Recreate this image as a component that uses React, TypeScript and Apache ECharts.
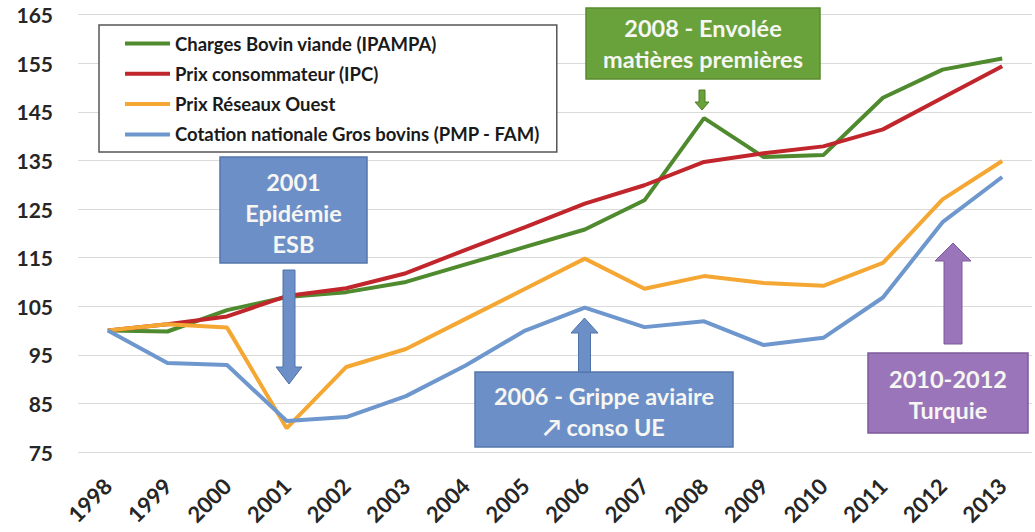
import React, { useEffect, useRef } from "react";
import * as echarts from "echarts";

const years = ["1998", "1999", "2000", "2001", "2002", "2003", "2004", "2005", "2006", "2007", "2008", "2009", "2010", "2011", "2012", "2013"];
const chargesBovin = [100, 99.8, 104.2, 106.9, 107.9, 110, 113.6, 117.2, 120.8, 126.8, 143.7, 135.7, 136.1, 147.9, 153.7, 156];
const prixConso = [100, 101.3, 102.9, 107.1, 108.7, 111.8, 116.6, 121.3, 126.1, 129.9, 134.7, 136.5, 137.9, 141.4, 147.9, 154.4];
const prixReseaux = [100, 101.3, 100.6, 79.9, 92.5, 96.2, 102.4, 108.6, 114.8, 108.6, 111.2, 109.8, 109.2, 113.9, 127, 134.9];
const cotation = [100, 93.3, 92.9, 81.4, 82.2, 86.5, 92.8, 100, 104.7, 100.7, 101.9, 97, 98.5, 106.8, 122.3, 131.6];
const seriesNames = [
  "Charges Bovin viande (IPAMPA)",
  "Prix consommateur (IPC)",
  "Prix Réseaux Ouest",
  "Cotation nationale Gros bovins (PMP - FAM)",
];
const seriesColors = ["#4f8a2e", "#c1262c", "#f5a733", "#6e97cd"];
const yMin = 75;
const yMax = 165;
const yStep = 10;

const FONT = "Lato, 'Open Sans', sans-serif";

function box(x: number, y: number, w: number, h: number, fill: string, stroke: string, text: string, ty: number) {
  return {
    type: "group",
    z: 100,
    children: [
      { type: "rect", z: 100, shape: { x, y, width: w, height: h }, style: { fill, stroke, lineWidth: 1.5 } },
      {
        type: "text",
        z: 101,
        x: x + w / 2,
        y: ty,
        style: {
          text,
          fill: "#f6f6f2",
          fontFamily: FONT,
          fontWeight: "bold",
          fontSize: 23.5,
          align: "center",
          verticalAlign: "middle",
          lineHeight: 31,
        },
      },
    ],
  };
}

function arrow(points: number[][], fill: string, stroke: string) {
  return { type: "polygon", z: 102, shape: { points }, style: { fill, stroke, lineWidth: 1 } };
}

export default function App() {
  const ref = useRef<HTMLDivElement>(null);
  useEffect(() => {
    if (!ref.current) return;
    const chart = echarts.init(ref.current, null, { renderer: "svg" });
    const data = [chargesBovin, prixConso, prixReseaux, cotation];
    chart.setOption({
      animation: false,
      backgroundColor: "#ffffff",
      grid: { left: 78, right: 3, top: 14.7, bottom: 80, containLabel: false },
      legend: {
        orient: "vertical",
        left: 99,
        top: 25,
        backgroundColor: "#ffffff",
        borderColor: "#555555",
        borderWidth: 1.5,
        padding: [9, 17, 8, 26],
        itemGap: 11.3,
        itemWidth: 45,
        itemHeight: 4,
        icon: "rect",
        z: 50,
        textStyle: { fontFamily: FONT, fontWeight: "bold", fontSize: 18.5, lineHeight: 18, color: "#1a1a1a" },
        data: seriesNames,
      },
      xAxis: {
        type: "category",
        data: years,
        boundaryGap: true,
        axisLine: { show: false },
        axisTick: { show: false },
        axisLabel: {
          rotate: 45,
          margin: 30,
          fontFamily: FONT,
          fontWeight: "bold",
          fontSize: 22,
          color: "#262626",
          interval: 0,
        },
      },
      yAxis: {
        type: "value",
        min: yMin,
        max: yMax,
        interval: yStep,
        axisLine: { show: false },
        axisTick: { show: false },
        axisLabel: { margin: 25, fontFamily: FONT, fontWeight: "bold", fontSize: 21, color: "#262626" },
        splitLine: { lineStyle: { color: "#dadada", width: 1.2 } },
      },
      series: seriesNames.map((name, i) => ({
        name,
        type: "line",
        data: data[i],
        symbol: "none",
        lineStyle: { width: 4, color: seriesColors[i] },
        itemStyle: { color: seriesColors[i] },
      })),
      graphic: [
        box(586, 8, 234, 71, "#69a13a", "#5a8a30", "2008 - Envolée\nmatières premières", 43),
        arrow([[699, 90], [705, 90], [705, 102], [709, 102], [702, 110], [695, 102], [699, 102]], "#69a13a", "#4e7d28"),
        box(220, 157, 147, 106, "#6d8fc7", "#5577aa", "2001\nEpidémie\nESB", 213),
        arrow([[283, 270], [295, 270], [295, 367], [302, 367], [289, 384], [276, 367], [283, 367]], "#6d8fc7", "#4f72a8"),
        box(475, 372, 258, 75, "#6d8fc7", "#5577aa", "2006 - Grippe aviaire\n↗ conso UE", 411.5),
        arrow([[584.5, 318], [598, 333], [590.5, 333], [590.5, 372], [578.5, 372], [578.5, 333], [571, 333]], "#6d8fc7", "#4f72a8"),
        box(868, 353, 160, 80, "#9b75b9", "#7d5a9c", "2010-2012\nTurquie", 394),
        arrow([[953, 243], [971, 261], [962, 261], [962, 344], [944, 344], [944, 261], [935, 261]], "#9b75b9", "#7d5a9c"),
      ],
    });
    return () => chart.dispose();
  }, []);
  return <div ref={ref} style={{ position: "fixed", left: 0, top: 0, width: 1035, height: 532 }} />;
}
